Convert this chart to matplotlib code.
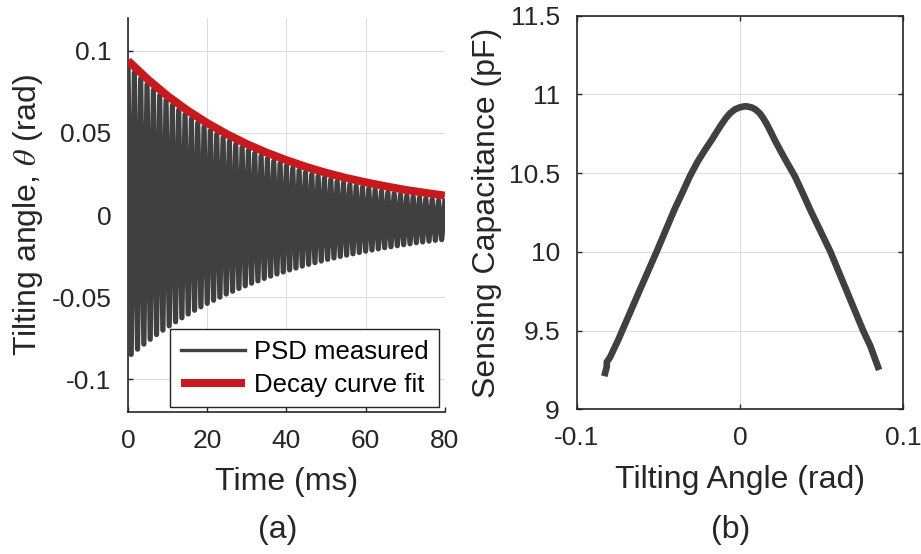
import numpy as np
import matplotlib
matplotlib.use("Agg")
import matplotlib.pyplot as plt

plt.rcParams['font.family'] = ['Liberation Sans', 'DejaVu Sans']
plt.rcParams['mathtext.fontset'] = 'stix'

# (a) PSD measured: peak values of the oscillation
period = 1.6  # ms between successive upper peaks
upper_peaks = [0.0905, 0.0867, 0.0830, 0.0795, 0.0761, 0.0729, 0.0698, 0.0668, 0.0640, 0.0612,
               0.0586, 0.0561, 0.0537, 0.0513, 0.0491, 0.0470, 0.0449, 0.0430, 0.0411, 0.0393,
               0.0375, 0.0359, 0.0343, 0.0327, 0.0313, 0.0299, 0.0285, 0.0272, 0.0260, 0.0248,
               0.0236, 0.0225, 0.0215, 0.0204, 0.0195, 0.0185, 0.0176, 0.0168, 0.0160, 0.0152,
               0.0144, 0.0137, 0.0130, 0.0123, 0.0117, 0.0111, 0.0105, 0.0099, 0.0094, 0.0088,
               0.0083]
lower_peaks = [-0.0849, -0.0817, -0.0786, -0.0757, -0.0728, -0.0701, -0.0675, -0.0650, -0.0626, -0.0603,
               -0.0580, -0.0559, -0.0538, -0.0519, -0.0500, -0.0481, -0.0464, -0.0447, -0.0431, -0.0415,
               -0.0401, -0.0386, -0.0372, -0.0359, -0.0347, -0.0334, -0.0323, -0.0311, -0.0300, -0.0290,
               -0.0280, -0.0270, -0.0261, -0.0252, -0.0244, -0.0236, -0.0228, -0.0220, -0.0213, -0.0206,
               -0.0199, -0.0193, -0.0187, -0.0181, -0.0175, -0.0169, -0.0164, -0.0159, -0.0154, -0.0150]

# (a) decay curve fit
decay_t = [0, 5, 10, 15, 20, 25, 30, 35, 40, 45, 50, 55, 60, 65, 70, 75, 80]
decay_val = [0.0940, 0.0826, 0.0725, 0.0637, 0.0560, 0.0492, 0.0432, 0.0380, 0.0334,
             0.0293, 0.0257, 0.0226, 0.0199, 0.0175, 0.0153, 0.0135, 0.0118]

# (b) capacitance vs tilting angle
cap_angle = [-0.0830, -0.0815, -0.0815, -0.0795, -0.0745, -0.0720, -0.0620, -0.0510,
             -0.0400, -0.0350, -0.0306, -0.0260, -0.0215, -0.0173, -0.0140, -0.0112,
             -0.0085, -0.0060, -0.0030, 0.0000, 0.0035, 0.0070, 0.0095, 0.0122,
             0.0143, 0.0163, 0.0188, 0.0214, 0.0250, 0.0290, 0.0337, 0.0382,
             0.0432, 0.0555, 0.0655, 0.0755, 0.0800, 0.0835, 0.0853]
cap_value = [9.21, 9.27, 9.30, 9.33, 9.44, 9.50, 9.74, 10.00,
             10.27, 10.38, 10.48, 10.57, 10.645, 10.71, 10.765, 10.81,
             10.85, 10.88, 10.905, 10.918, 10.925, 10.918, 10.905, 10.88,
             10.85, 10.815, 10.765, 10.71, 10.64, 10.565, 10.48, 10.38,
             10.265, 10.00, 9.75, 9.50, 9.40, 9.30, 9.25]

dark = '#404040'
red = '#c8191e'
axcol = '#262626'
gridcol = '#dedede'

# zigzag between upper and lower peaks
t_up = np.arange(len(upper_peaks)) * period
t_low = np.arange(len(lower_peaks)) * period + period / 2
psd_t = np.empty(len(t_up) + len(t_low))
psd_v = np.empty_like(psd_t)
psd_t[0::2] = t_up
psd_t[1::2] = t_low
psd_v[0::2] = upper_peaks
psd_v[1::2] = lower_peaks

fig = plt.figure(figsize=(9.21, 5.54), dpi=100)
ax1 = fig.add_axes([0.139, 0.2563, 0.344, 0.7112])
ax2 = fig.add_axes([0.626, 0.2612, 0.3546, 0.7105])

tick_fs = 19
label_fs = 23

# ---- (a)
ax1.plot(psd_t, psd_v, color=dark, lw=3.8, label='PSD measured', zorder=3)
ax1.plot(decay_t, decay_val, color=red, lw=5.8, label='Decay curve fit', zorder=4,
         solid_capstyle='butt')
ax1.set_xlim(0, 80)
ax1.set_ylim(-0.12, 0.12)
ax1.set_xticks([0, 20, 40, 60, 80])
ax1.set_yticks([-0.1, -0.05, 0, 0.05, 0.1])
ax1.set_yticklabels(['-0.1', '-0.05', '0', '0.05', '0.1'])
ax1.spines['top'].set_visible(False)
ax1.spines['right'].set_visible(False)
ax1.set_xlabel('Time (ms)', fontsize=label_fs, color=axcol, labelpad=10)
ax1.set_ylabel(r'Tilting angle, $\theta$ (rad)', fontsize=label_fs, color=axcol, labelpad=5)
leg = ax1.legend(loc='lower right', bbox_to_anchor=(0.981, 0.013), borderaxespad=0,
                 fontsize=18.5, handlelength=2.5, labelspacing=0.35, fancybox=False,
                 framealpha=1, edgecolor=axcol, borderpad=0.4, handletextpad=0.35)
leg.get_frame().set_linewidth(1.0)
leg.get_lines()[0].set_linewidth(2.4)

# ---- (b)
ax2.plot(cap_angle, cap_value, color=dark, lw=4.8, solid_capstyle='butt',
         solid_joinstyle='round', zorder=3)
ax2.set_xlim(-0.1, 0.1)
ax2.set_ylim(9, 11.5)
ax2.set_xticks([-0.1, 0, 0.1])
ax2.set_xticklabels(['-0.1', '0', '0.1'])
ax2.set_yticks([9, 9.5, 10, 10.5, 11, 11.5])
ax2.set_yticklabels(['9', '9.5', '10', '10.5', '11', '11.5'])
ax2.set_xlabel('Tilting Angle (rad)', fontsize=label_fs, color=axcol, labelpad=11)
ax2.set_ylabel('Sensing Capacitance (pF)', fontsize=label_fs, color=axcol, labelpad=5)
ax2.tick_params(top=True, right=True)

for ax in (ax1, ax2):
    ax.grid(True, color=gridcol, lw=0.8)
    ax.set_axisbelow(True)
    ax.tick_params(direction='in', length=3.6, width=1.0, labelsize=tick_fs,
                   colors=axcol, pad=12)
    for s in ax.spines.values():
        s.set_color(axcol)
        s.set_linewidth(1.2)

fig.text(0.302, 0.043, '(a)', fontsize=label_fs, color=axcol, ha='center', va='center')
fig.text(0.793, 0.043, '(b)', fontsize=label_fs, color=axcol, ha='center', va='center')

fig.savefig('out.png', dpi=100)
